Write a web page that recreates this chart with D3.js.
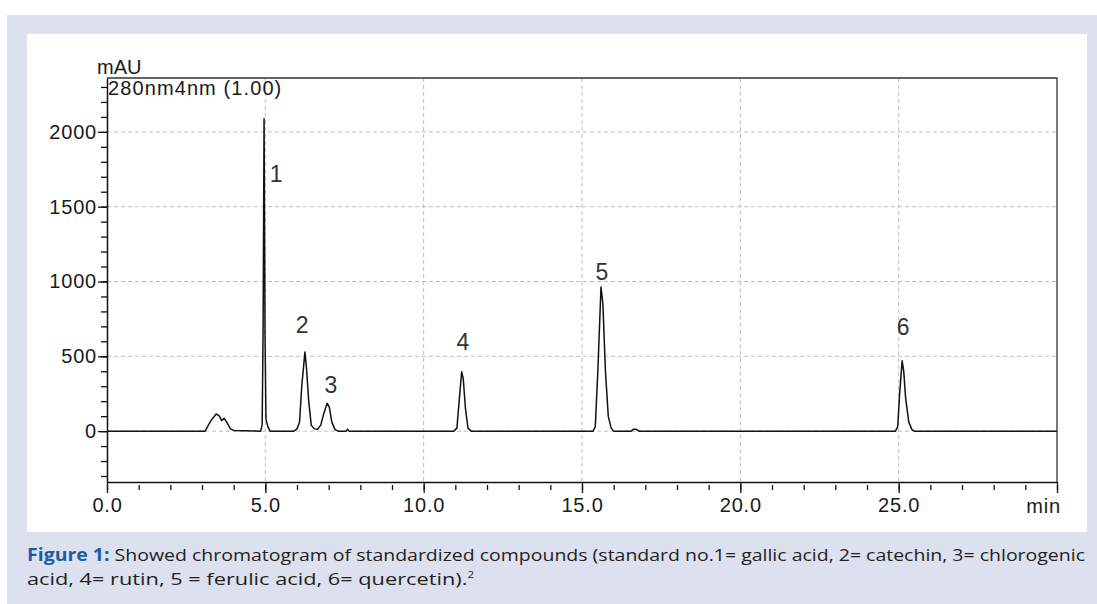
<!DOCTYPE html>
<html>
<head>
<meta charset="utf-8">
<script src="https://cdn.jsdelivr.net/npm/d3@7"></script>
<style>
  body { margin: 0; background: #fff; }
  svg { display: block; }
</style>
</head>
<body>
<div id="chart"></div>
<script>
// chromatogram trace (min, mAU)
var traceTime = [0, 3.1, 3.2, 3.3, 3.45, 3.55, 3.62, 3.7, 3.78, 3.9, 4.0, 4.3, 4.85, 4.9, 4.93, 4.96, 4.99, 5.02, 5.08, 5.15,
  5.9, 6.0, 6.08, 6.15, 6.25, 6.3, 6.37, 6.45, 6.55, 6.65, 6.75, 6.85, 6.95, 7.02, 7.1, 7.2, 7.3, 7.55, 7.6, 7.65,
  10.95, 11.05, 11.12, 11.2, 11.25, 11.32, 11.4, 11.5,
  15.35, 15.42, 15.5, 15.6, 15.66, 15.74, 15.83, 15.92, 16.0,
  16.55, 16.62, 16.72, 16.8,
  24.9, 24.97, 25.03, 25.11, 25.16, 25.22, 25.32, 25.42, 25.5, 30];
var traceSignal = [0, 0, 40, 75, 115, 100, 70, 85, 60, 15, 5, 3, 0, 40, 700, 2087, 650, 80, 30, 0,
  0, 15, 60, 300, 528, 420, 200, 40, 15, 12, 40, 120, 187, 160, 60, 10, 0, 0, 12, 0,
  0, 20, 200, 397, 350, 150, 20, 0,
  0, 30, 400, 963, 850, 400, 100, 20, 0,
  0, 12, 12, 0,
  0, 30, 250, 470, 400, 220, 60, 10, 0, 0];

// peak numbers and where they sit
var peakLabels = ["1", "2", "3", "4", "5", "6"];
var labelTime = [5.34, 6.16, 7.07, 11.24, 15.63, 25.14];
var labelSignal = [1720, 709, 308, 595, 1064, 696];

var xMajor = [0, 5, 10, 15, 20, 25];
var yMajor = [0, 500, 1000, 1500, 2000];
var xMinor = d3.range(0, 31, 1);
var yMinor = d3.range(-300, 2400, 100);

var W = 1097, H = 604;
var svg = d3.select("#chart").append("svg")
  .attr("width", W)
  .attr("height", H);

// lavender figure box and white chart panel
svg.append("rect").attr("x", 7).attr("y", 15).attr("width", W - 7).attr("height", H - 15).attr("fill", "#dde0ee");
svg.append("rect").attr("x", 27).attr("y", 34).attr("width", 1060).attr("height", 498).attr("fill", "#fff");

var x = d3.scaleLinear().domain([0, 30]).range([107, 1057]);
var y = d3.scaleLinear().domain([-340, 2360]).range([482, 78]);

var fontAx = "'Liberation Sans', Arial, sans-serif";

// dashed grid
svg.selectAll(".gx").data(xMajor.slice(1)).enter().append("line")
  .attr("x1", d => x(d)).attr("x2", d => x(d))
  .attr("y1", y.range()[1]).attr("y2", y.range()[0])
  .attr("stroke", "#bdbdbd").attr("stroke-width", 1).attr("stroke-dasharray", "4,3");
svg.selectAll(".gy").data(yMajor).enter().append("line")
  .attr("x1", x.range()[0]).attr("x2", x.range()[1])
  .attr("y1", d => y(d)).attr("y2", d => y(d))
  .attr("stroke", "#bdbdbd").attr("stroke-width", 1).attr("stroke-dasharray", "4,3");

// frame top and right
svg.append("path")
  .attr("d", "M" + x(0) + "," + y.range()[1] + "H" + x(30) + "V" + y.range()[0])
  .attr("fill", "none").attr("stroke", "#333").attr("stroke-width", 1.3);

// trace
var pts = traceTime.map((t, i) => [t, traceSignal[i]]);
svg.append("path")
  .datum(pts)
  .attr("d", d3.line().x(d => x(d[0])).y(d => y(d[1])))
  .attr("fill", "none")
  .attr("stroke", "#111")
  .attr("stroke-width", 1.5)
  .attr("stroke-linejoin", "round");

// y axis
var yMin = svg.append("g").attr("transform", "translate(" + x(0) + ",0)")
  .call(d3.axisLeft(y).tickValues(yMinor).tickSize(6).tickSizeOuter(0).tickFormat(""));
yMin.select(".domain").remove();
var yAx = svg.append("g").attr("transform", "translate(" + x(0) + ",0)")
  .call(d3.axisLeft(y).tickValues(yMajor).tickSize(9).tickSizeOuter(0).tickPadding(1).tickFormat(d3.format("d")));
svg.selectAll("g line").attr("stroke", "#111").attr("stroke-width", 1.3);
yAx.select(".domain").attr("stroke", "#111").attr("stroke-width", 1.5);
yAx.selectAll("text").attr("font-family", fontAx).attr("font-size", 20)
  .attr("letter-spacing", 0.8).attr("fill", "#1a1a1a");

// x axis
var xMin = svg.append("g").attr("transform", "translate(0," + (y.range()[0] + 3) + ")")
  .call(d3.axisBottom(x).tickValues(xMinor).tickSize(5).tickSizeOuter(0).tickFormat(""));
xMin.select(".domain").remove();
var xAx = svg.append("g").attr("transform", "translate(0," + y.range()[0] + ")")
  .call(d3.axisBottom(x).tickValues(xMajor.concat([30])).tickSize(11).tickSizeOuter(0).tickPadding(5)
    .tickFormat(d => d === 30 ? "" : d3.format(".1f")(d)));
svg.selectAll("g line").attr("stroke", "#111").attr("stroke-width", 1.3);
xAx.select(".domain").attr("stroke", "#111").attr("stroke-width", 1.5);
xAx.selectAll("text").attr("font-family", fontAx).attr("font-size", 20)
  .attr("letter-spacing", 0.8).attr("fill", "#1a1a1a");

svg.append("text").attr("x", x(30) + 4).attr("y", y.range()[0] + 31)
  .attr("text-anchor", "end").attr("font-family", fontAx).attr("font-size", 20)
  .attr("letter-spacing", 0.8).attr("fill", "#1a1a1a").text("min");

svg.append("text").attr("x", 97).attr("y", 74)
  .attr("font-family", fontAx).attr("font-size", 20).attr("fill", "#1a1a1a").text("mAU");
svg.append("text").attr("x", 108).attr("y", 95)
  .attr("font-family", fontAx).attr("font-size", 20).attr("letter-spacing", 1.1)
  .attr("fill", "#1a1a1a").text("280nm4nm (1.00)");

// peak numbers
svg.selectAll(".pk").data(peakLabels).enter().append("text")
  .attr("x", (d, i) => x(labelTime[i]))
  .attr("y", (d, i) => y(labelSignal[i]))
  .attr("text-anchor", "middle")
  .attr("dominant-baseline", "central")
  .attr("font-family", fontAx).attr("font-size", 23)
  .attr("fill", "#333")
  .text(d => d);

// caption
var fontCap = "'Liberation Sans Narrow', 'Open Sans', sans-serif";
var cap1 = svg.append("text").attr("x", 27).attr("y", 561)
  .attr("font-family", fontCap).attr("font-size", 17).attr("fill", "#231f20")
  .attr("textLength", 1058).attr("lengthAdjust", "spacingAndGlyphs");
cap1.append("tspan").attr("font-weight", "bold").attr("fill", "#1d5ba6").text("Figure 1:");
cap1.append("tspan").text(" Showed chromatogram of standardized compounds (standard no.1= gallic acid, 2= catechin, 3= chlorogenic");
var cap2 = svg.append("text").attr("x", 27).attr("y", 585)
  .attr("font-family", fontCap).attr("font-size", 17).attr("fill", "#231f20")
  .attr("textLength", 447).attr("lengthAdjust", "spacingAndGlyphs");
cap2.append("tspan").text("acid, 4= rutin, 5 = ferulic acid, 6= quercetin).");
cap2.append("tspan").attr("font-size", 9).attr("dy", -7).text("2");
</script>
</body>
</html>
